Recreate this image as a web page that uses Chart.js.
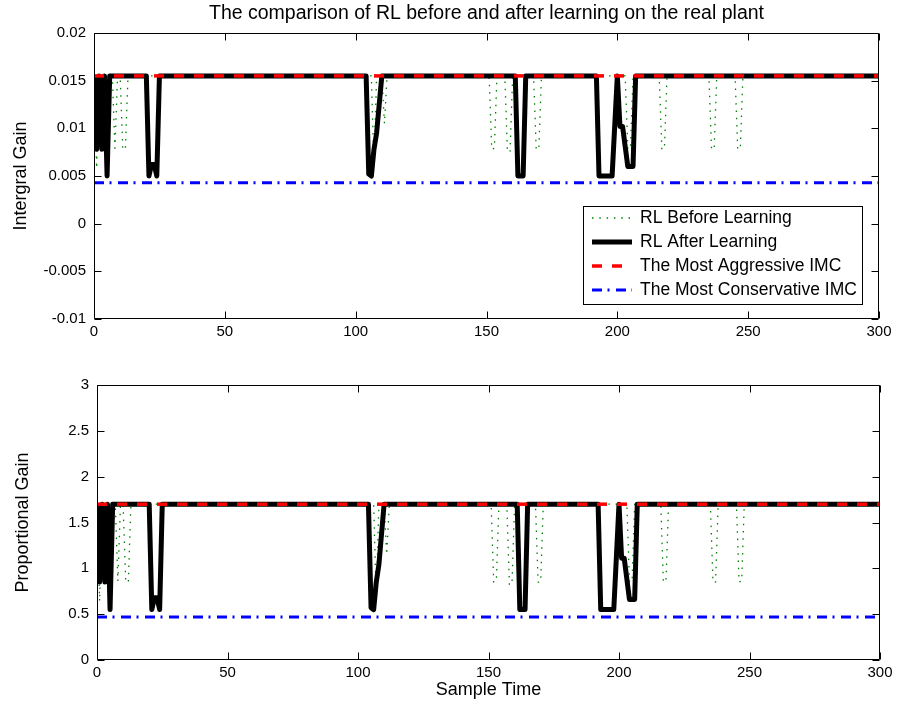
<!DOCTYPE html>
<html>
<head>
<meta charset="utf-8">
<script src="https://cdn.jsdelivr.net/npm/chart.js@4.4.1/dist/chart.umd.min.js"></script>
<style>
  body { margin: 0; background: #fff; }
  #wrap { position: relative; width: 897px; height: 706px; }
  canvas { position: absolute; left: 0; }
  #gainI { top: 0; }
  #gainP { top: 345px; }
</style>
</head>
<body>
<div id="wrap">
  <canvas id="gainI" width="897" height="345"></canvas>
  <canvas id="gainP" width="897" height="361"></canvas>
</div>
<script>
// axis ticks
const xTicks = [0, 50, 100, 150, 200, 250, 300];
const integralTicks = [-0.01, -0.005, 0, 0.005, 0.01, 0.015, 0.02];
const proportionalTicks = [0, 0.5, 1, 1.5, 2, 2.5, 3];

const seriesNames = ['RL Before Learning', 'RL After Learning', 'The Most Aggressive IMC', 'The Most Conservative IMC'];

// RL before learning: sample times where the gain changes
const beforeTime = [0, 1, 2, 7, 8, 9, 10, 11, 12, 13, 106, 107, 108, 110, 111, 112,
  151, 152, 153, 154, 157, 158, 159, 160, 168, 169, 170, 171, 203, 204, 205, 206,
  216, 217, 218, 219, 235, 236, 237, 238, 245, 246, 247, 248, 300];
const beforeIntegral = [0.0155, 0.0058, 0.0155, 0.0155, 0.0079, 0.0155, 0.0155, 0.0078, 0.0078, 0.0155,
  0.0155, 0.006, 0.0155, 0.0155, 0.0105, 0.0155,
  0.0155, 0.0078, 0.0079, 0.0155, 0.0155, 0.0075, 0.0076, 0.0155, 0.0155, 0.0078, 0.0078, 0.0155,
  0.0155, 0.0079, 0.0078, 0.0155, 0.0155, 0.0078, 0.0079, 0.0155, 0.0155, 0.0078, 0.0078, 0.0155,
  0.0155, 0.0078, 0.0079, 0.0155, 0.0155];
const beforeProportional = [1.7, 0.64, 1.7, 1.7, 0.86, 1.7, 1.7, 0.85, 0.85, 1.7,
  1.7, 0.66, 1.7, 1.7, 1.15, 1.7,
  1.7, 0.85, 0.86, 1.7, 1.7, 0.82, 0.83, 1.7, 1.7, 0.85, 0.85, 1.7,
  1.7, 0.86, 0.85, 1.7, 1.7, 0.85, 0.86, 1.7, 1.7, 0.85, 0.85, 1.7,
  1.7, 0.85, 0.86, 1.7, 1.7];

// RL after learning
const afterTime = [0, 1, 2, 3, 4, 5, 6, 20, 21, 22, 23, 24, 25,
  104, 105, 106, 107, 108, 109, 110, 161, 162, 164, 165,
  192, 193, 198, 200, 201, 202, 204, 206, 207, 300];
const afterIntegral = [0.0155, 0.0078, 0.0155, 0.0078, 0.0155, 0.005, 0.0155,
  0.0155, 0.005, 0.0062, 0.0062, 0.005, 0.0155,
  0.0155, 0.0052, 0.005, 0.0078, 0.0095, 0.0125, 0.0155,
  0.0155, 0.005, 0.005, 0.0155,
  0.0155, 0.005, 0.005, 0.0155, 0.0102, 0.0102, 0.006, 0.006, 0.0155, 0.0155];
const afterProportional = [1.7, 0.85, 1.7, 0.85, 1.7, 0.55, 1.7,
  1.7, 0.55, 0.68, 0.68, 0.55, 1.7,
  1.7, 0.57, 0.55, 0.85, 1.04, 1.37, 1.7,
  1.7, 0.55, 0.55, 1.7,
  1.7, 0.55, 0.55, 1.7, 1.11, 1.11, 0.66, 0.66, 1.7, 1.7];

// IMC reference gains
const imcTime = [0, 300];
const aggressiveIntegral = [0.0155, 0.0155];
const conservativeIntegral = [0.0043, 0.0043];
const aggressiveProportional = [1.7, 1.7];
const conservativeProportional = [0.47, 0.47];

const FONT = "'Liberation Sans', Arial, Helvetica, sans-serif";

const lineStyles = [
  { borderColor: 'rgb(0,128,0)', borderWidth: 1.3, borderDash: [1.5, 5.8], order: 3 },
  { borderColor: '#000', borderWidth: 5, borderDash: [], order: 2 },
  { borderColor: 'rgb(255,0,0)', borderWidth: 3.5, borderDash: [10, 10], order: 0 },
  { borderColor: 'rgb(0,0,255)', borderWidth: 3, borderDash: [10, 5.5, 2, 6.5], order: 1 }
];

function points(xs, ys) {
  return xs.map((x, i) => ({ x: x, y: ys[i] }));
}

// box, inward ticks, texts and the legend, drawn in matlab style
const frame = {
  id: 'frame',
  afterDraw(chart, args, opts) {
    const ctx = chart.ctx;
    const a = chart.chartArea;
    const sx = chart.scales.x, sy = chart.scales.y;
    const L = Math.round(a.left) + 0.5, R = Math.round(a.right) - 0.5;
    const T = Math.round(a.top) + 0.5, B = Math.round(a.bottom) - 0.5;
    ctx.save();
    ctx.strokeStyle = '#000';
    ctx.lineWidth = 1;
    ctx.setLineDash([]);
    ctx.beginPath();
    ctx.rect(L, T, R - L, B - T);
    sx.ticks.forEach(t => {
      const p = Math.round(sx.getPixelForValue(t.value)) + 0.5;
      ctx.moveTo(p, B); ctx.lineTo(p, B - 7);
      ctx.moveTo(p, T); ctx.lineTo(p, T + 7);
    });
    sy.ticks.forEach(t => {
      const p = Math.round(sy.getPixelForValue(t.value)) + 0.5;
      ctx.moveTo(L, p); ctx.lineTo(L + 7, p);
      ctx.moveTo(R, p); ctx.lineTo(R - 7, p);
    });
    ctx.stroke();

    ctx.fillStyle = '#000';
    ctx.textAlign = 'center';
    ctx.textBaseline = 'middle';
    if (opts.title) {
      ctx.font = '19.5px ' + FONT;
      ctx.fillText(opts.title, (a.left + a.right) / 2, opts.titleY);
    }
    if (opts.xLabel) {
      ctx.font = '18px ' + FONT;
      ctx.fillText(opts.xLabel, (a.left + a.right) / 2, opts.xLabelY);
    }
    ctx.save();
    ctx.translate(opts.yLabelX, (a.top + a.bottom) / 2);
    ctx.rotate(-Math.PI / 2);
    ctx.font = '18px ' + FONT;
    ctx.fillText(opts.yLabel, 0, 0);
    ctx.restore();

    if (opts.legend) {
      const box = opts.legend;
      ctx.fillStyle = '#fff';
      ctx.fillRect(box.left, box.top, box.width, box.height);
      ctx.strokeRect(box.left + 0.5, box.top + 0.5, box.width, box.height);
      ctx.font = '17.5px ' + FONT;
      ctx.textAlign = 'left';
      chart.data.datasets.forEach((ds, i) => {
        const y = box.top + 12 + i * 24;
        ctx.beginPath();
        ctx.strokeStyle = ds.borderColor;
        ctx.lineWidth = ds.borderWidth;
        ctx.setLineDash(ds.borderDash);
        ctx.moveTo(box.left + 9, y);
        ctx.lineTo(box.left + 49, y);
        ctx.stroke();
        ctx.fillStyle = '#000';
        ctx.fillText(ds.label, box.left + 57, y);
      });
    }
    ctx.restore();
  }
};

function makeChart(id, cfg) {
  const series = [
    points(beforeTime, cfg.before),
    points(afterTime, cfg.after),
    points(imcTime, cfg.aggressive),
    points(imcTime, cfg.conservative)
  ];
  const datasets = series.map((data, i) => Object.assign({
    label: seriesNames[i],
    data: data,
    pointRadius: 0,
    tension: 0,
    fill: false,
    borderJoinStyle: 'round',
    borderCapStyle: 'butt'
  }, lineStyles[i]));

  return new Chart(document.getElementById(id), {
    type: 'line',
    data: { datasets: datasets },
    options: {
      responsive: false,
      animation: false,
      devicePixelRatio: 1,
      layout: { padding: cfg.padding },
      plugins: {
        legend: { display: false },
        tooltip: { enabled: false },
        frame: cfg.frame
      },
      scales: {
        x: {
          type: 'linear', min: 0, max: 300,
          grid: { display: false, drawTicks: false, tickLength: 0 }, border: { display: false },
          afterBuildTicks: s => { s.ticks = xTicks.map(v => ({ value: v })); },
          afterFit: s => { s.height = cfg.xHeight; },
          ticks: { padding: 4, maxRotation: 0, autoSkip: false, color: '#000',
            font: { family: FONT, size: 15 }, callback: v => String(v) }
        },
        y: {
          type: 'linear', min: cfg.yTicks[0], max: cfg.yTicks[cfg.yTicks.length - 1],
          grid: { display: false, drawTicks: false, tickLength: 0 }, border: { display: false },
          afterBuildTicks: s => { s.ticks = cfg.yTicks.map(v => ({ value: v })); },
          afterFit: s => { s.width = cfg.yWidth; },
          ticks: { padding: 8, autoSkip: false, color: '#000',
            font: { family: FONT, size: 15 }, callback: v => String(v) }
        }
      }
    },
    plugins: [frame]
  });
}

makeChart('gainI', {
  before: beforeIntegral, after: afterIntegral,
  aggressive: aggressiveIntegral, conservative: conservativeIntegral,
  yTicks: integralTicks,
  padding: { left: 0, right: 18, top: 33, bottom: 0 },
  yWidth: 94, xHeight: 26,
  frame: {
    title: 'The comparison of RL before and after learning on the real plant', titleY: 14,
    yLabel: 'Intergral Gain', yLabelX: 21,
    legend: { left: 583, top: 206, width: 279, height: 98 }
  }
});

makeChart('gainP', {
  before: beforeProportional, after: afterProportional,
  aggressive: aggressiveProportional, conservative: conservativeProportional,
  yTicks: proportionalTicks,
  padding: { left: 0, right: 17, top: 40, bottom: 0 },
  yWidth: 97, xHeight: 46,
  frame: {
    xLabel: 'Sample Time', xLabelY: 345,
    yLabel: 'Proportional Gain', yLabelX: 23
  }
});
</script>
</body>
</html>
